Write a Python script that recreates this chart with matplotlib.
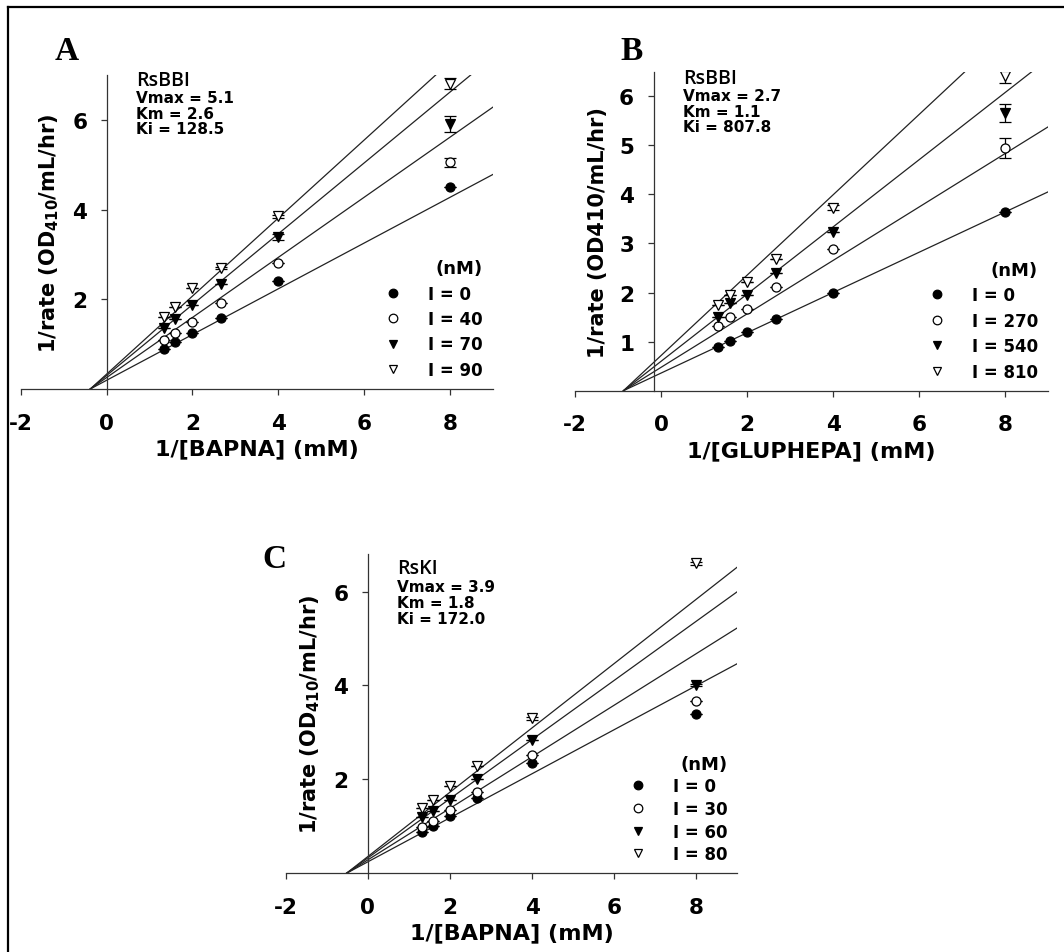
import numpy as np
import matplotlib
matplotlib.use("Agg")
import matplotlib.pyplot as plt
from matplotlib.lines import Line2D

plt.rcParams['font.family'] = ['DejaVu Sans']
plt.rcParams['font.weight'] = 'bold'
plt.rcParams['axes.labelweight'] = 'bold'
plt.rcParams['mathtext.default'] = 'bf'
plt.rcParams['axes.unicode_minus'] = False

# 1/[substrate] values (mM^-1)
inv_s = [1.33, 1.6, 2.0, 2.67, 4.0, 8.0]

# Panel A - RsBBI vs BAPNA
a_labels = ["I = 0", "I = 40", "I = 70", "I = 90"]
a_i0 = [0.89, 1.04, 1.24, 1.59, 2.41, 4.50]
a_i40 = [1.10, 1.24, 1.50, 1.91, 2.81, 5.06]
a_i70 = [1.37, 1.56, 1.87, 2.35, 3.39, 5.91]
a_i90 = [1.61, 1.82, 2.26, 2.70, 3.85, 6.81]
a_err = [[0, 0, 0, 0, 0, 0],
         [0, 0, 0, 0, 0, 0.10],
         [0, 0, 0, 0, 0.06, 0.18],
         [0, 0, 0, 0.03, 0.04, 0.13]]
a_slope = [0.51, 0.67, 0.79, 0.87]
a_xint = -0.38
a_info = ["Vmax = 5.1", "Km = 2.6", "Ki = 128.5"]

# Panel B - RsBBI vs GLUPHEPA
b_labels = ["I = 0", "I = 270", "I = 540", "I = 810"]
b_i0 = [0.90, 1.02, 1.19, 1.47, 1.99, 3.65]
b_i270 = [1.31, 1.50, 1.67, 2.12, 2.88, 4.95]
b_i540 = [1.51, 1.78, 1.95, 2.39, 3.24, 5.66]
b_i810 = [1.74, 1.95, 2.22, 2.69, 3.73, 6.42]
b_err = [[0, 0, 0, 0, 0, 0],
         [0, 0, 0, 0, 0, 0.20],
         [0, 0, 0, 0, 0, 0.18],
         [0, 0, 0, 0, 0.05, 0.15]]
b_slope = [0.41, 0.544, 0.684, 0.818]
b_xint = -0.88
b_info = ["Vmax = 2.7", "Km = 1.1", "Ki = 807.8"]

# Panel C - RsKI vs BAPNA
c_labels = ["I = 0", "I = 30", "I = 60", "I = 80"]
c_i0 = [0.89, 1.01, 1.23, 1.60, 2.34, 3.40]
c_i30 = [0.98, 1.12, 1.35, 1.74, 2.53, 3.67]
c_i60 = [1.19, 1.33, 1.57, 2.01, 2.84, 4.01]
c_i80 = [1.39, 1.57, 1.85, 2.28, 3.30, 6.60]
c_err = [[0, 0, 0, 0, 0, 0],
         [0, 0, 0, 0, 0, 0],
         [0, 0, 0, 0, 0, 0.03],
         [0, 0, 0, 0, 0.03, 0.03]]
c_slope = [0.469, 0.549, 0.630, 0.685]
c_xint = -0.52
c_info = ["Vmax = 3.9", "Km = 1.8", "Ki = 172.0"]

markers = [("o", "black"), ("o", "white"), ("v", "black"), ("v", "white")]
W, H = 1064, 953


def px_axes(fig, x_left, x_right, y_top, y_bottom):
    # axes box from pixel corners (top-left origin)
    return fig.add_axes([x_left / W, 1 - y_bottom / H,
                         (x_right - x_left) / W, (y_bottom - y_top) / H])


def lineweaver(ax, series, errs, slopes, xint, labels, ylim, yticks,
               yspine, xlabel, ylabel, name, info, txt_x, txt_y, dy, lspace):
    for k, ys in enumerate(series):
        ax.axline((xint, 0), slope=slopes[k], color="#222222", lw=0.9, zorder=1)
        ax.errorbar(inv_s, ys, yerr=errs[k], fmt="none", ecolor="black",
                    elinewidth=0.9, capsize=4, capthick=0.9, zorder=2)
        m, fc = markers[k]
        ax.plot(inv_s, ys, linestyle="none", marker=m, ms=6.5, mfc=fc,
                mec="black", mew=0.9, label=labels[k], zorder=3)

    ax.set_xlim(-2, 9)
    ax.set_ylim(*ylim)
    ax.set_xticks([-2, 0, 2, 4, 6, 8])
    ax.set_yticks(yticks)
    for s in ["top", "right"]:
        ax.spines[s].set_visible(False)
    ax.spines["left"].set_position(("data", yspine))
    ax.spines["bottom"].set_position(("data", 0))
    for s in ["left", "bottom"]:
        ax.spines[s].set_linewidth(0.9)
        ax.spines[s].set_color("#333333")
    ax.patch.set_alpha(0)
    ax.tick_params(axis="both", direction="out", length=4, width=0.9,
                   labelsize=15.5, color="#333333")
    ax.tick_params(axis="y", pad=10)
    ax.tick_params(axis="x", pad=13)
    ax.set_xlabel(xlabel, fontsize=16, fontweight="bold", labelpad=4)
    ax.set_ylabel(ylabel, fontsize=15, fontweight="bold", labelpad=8)

    ax.text(txt_x, txt_y, name, fontsize=14, family=["Open Sans", "DejaVu Sans"],
            fontweight="semibold", va="baseline")
    for j, line in enumerate(info):
        ax.text(txt_x, txt_y - dy * (j + 1.15), line, fontsize=11,
                va="baseline")

    leg = ax.legend(loc="lower right", frameon=False, fontsize=12,
                    title="(nM)", title_fontproperties={"size": 13, "weight": "bold"},
                    alignment="right", handlelength=1.0, handletextpad=1.6,
                    labelspacing=lspace, borderaxespad=0.2, markerscale=0.95)
    return leg


fig = plt.figure(figsize=(W / 100, H / 100), dpi=100)

ax_a = px_axes(fig, 20.7, 493, 76, 390)
lineweaver(ax_a, [a_i0, a_i40, a_i70, a_i90], a_err, a_slope, a_xint, a_labels,
           (0, 7), [2, 4, 6], 0, "1/[BAPNA] (mM)", r"1/rate (OD$_{410}$/mL/hr)",
           "RsBBI", a_info, 0.68, 6.78, 0.34, 0.45)

ax_b = px_axes(fig, 575.3, 1048, 72.7, 391.7)
lineweaver(ax_b, [b_i0, b_i270, b_i540, b_i810], b_err, b_slope, b_xint, b_labels,
           (0, 6.5), [1, 2, 3, 4, 5, 6], -0.18, "1/[GLUPHEPA] (mM)",
           "1/rate (OD410/mL/hr)", "RsBBI", b_info, 0.5, 6.27, 0.31, 0.45)

ax_c = px_axes(fig, 285.7, 737.3, 555, 874.3)
lineweaver(ax_c, [c_i0, c_i30, c_i60, c_i80], c_err, c_slope, c_xint, c_labels,
           (0, 6.8), [2, 4, 6], 0, "1/[BAPNA] (mM)", r"1/rate (OD$_{410}$/mL/hr)",
           "RsKI", c_info, 0.72, 6.40, 0.34, 0.28)

# panel letters
for lx, ly, letter in [(67, 60, "A"), (632, 60, "B"), (274, 568, "C")]:
    fig.text(lx / W, 1 - ly / H, letter, fontsize=24, fontweight="bold",
             family=["Liberation Serif", "DejaVu Serif"], ha="center", va="baseline")

# outer frame (left and top edges)
fig.add_artist(Line2D([7.5 / W, 7.5 / W], [0, 1 - 7.5 / H], transform=fig.transFigure,
                      color="black", lw=1.6))
fig.add_artist(Line2D([7.5 / W, 1], [1 - 7.5 / H, 1 - 7.5 / H], transform=fig.transFigure,
                      color="black", lw=1.6))

fig.savefig("out.png", dpi=100)
